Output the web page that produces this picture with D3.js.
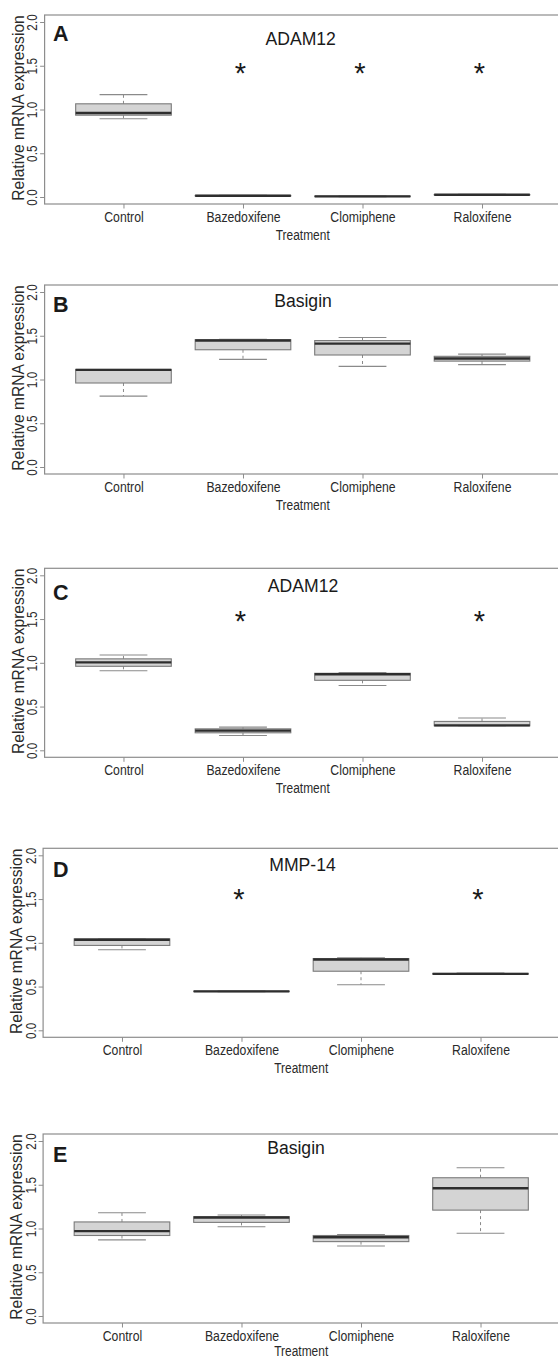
<!DOCTYPE html>
<html>
<head>
<meta charset="utf-8">
<script src="https://cdn.jsdelivr.net/npm/d3@7"></script>
<style>
  html, body { margin: 0; padding: 0; background: #fff; }
  svg { display: block; }
  text { font-family: "Liberation Sans", Arial, Helvetica, sans-serif; }
</style>
</head>
<body>
<svg id="chart" width="558" height="1360"></svg>
<script>
// ---------------- DATA ----------------
const categories = ["Control", "Bazedoxifene", "Clomiphene", "Raloxifene"];
const panelLetters = ["A", "B", "C", "D", "E"];
const panelTitles = ["ADAM12", "Basigin", "ADAM12", "MMP-14", "Basigin"];
const yTicks = [0, 0.5, 1.0, 1.5, 2.0];
const yTickLabels = ["0.0", "0.5", "1.0", "1.5", "2.0"];
const xTitle = "Treatment";
const yTitle = "Relative mRNA expression";

// five-number summaries per category: [lower whisker, Q1, median, Q3, upper whisker]
const statsA = [
  [0.895, 0.935, 0.96, 1.065, 1.17],
  [0.010, 0.012, 0.015, 0.018, 0.020],
  [0.003, 0.005, 0.007, 0.010, 0.012],
  [0.020, 0.024, 0.026, 0.028, 0.030]
];
const statsB = [
  [0.81, 0.96, 1.11, 1.115, 1.115],
  [1.23, 1.34, 1.445, 1.455, 1.46],
  [1.15, 1.28, 1.41, 1.445, 1.48],
  [1.17, 1.21, 1.24, 1.265, 1.29]
];
const statsC = [
  [0.91, 0.96, 1.005, 1.045, 1.09],
  [0.17, 0.20, 0.225, 0.245, 0.265],
  [0.74, 0.80, 0.87, 0.88, 0.89],
  [0.28, 0.28, 0.285, 0.33, 0.37]
];
const statsD = [
  [0.92, 0.97, 1.035, 1.045, 1.045],
  [0.44, 0.443, 0.445, 0.447, 0.45],
  [0.52, 0.675, 0.81, 0.82, 0.83],
  [0.64, 0.642, 0.645, 0.65, 0.655]
];
const statsE = [
  [0.87, 0.92, 0.97, 1.075, 1.18],
  [1.02, 1.07, 1.125, 1.135, 1.155],
  [0.80, 0.85, 0.90, 0.92, 0.93],
  [0.945, 1.21, 1.46, 1.58, 1.695]
];
const panelStats = [statsA, statsB, statsC, statsD, statsE];

// significance markers (category names) and the value level they are drawn at
const signifA = ["Bazedoxifene", "Clomiphene", "Raloxifene"];
const signifB = [];
const signifC = ["Bazedoxifene", "Raloxifene"];
const signifD = ["Bazedoxifene", "Raloxifene"];
const signifE = [];
const panelSignif = [signifA, signifB, signifC, signifD, signifE];
const signifLevel = [1.49, null, 1.55, 1.57, null];

// ---------------- LAYOUT ----------------
const layout = [
  { top: 15,    left: 44.6, titleX: 300.7, titleDy: 30.3, letterDy: 26.0 },
  { top: 285,   left: 44.6, titleX: 303.0, titleDy: 21.7, letterDy: 26.5 },
  { top: 568.3, left: 44.6, titleX: 303.0, titleDy: 23.4, letterDy: 31.2 },
  { top: 848.3, left: 43.1, titleX: 302.5, titleDy: 22.4, letterDy: 28.4 },
  { top: 1134,  left: 43.1, titleX: 296.0, titleDy: 19.5, letterDy: 28.0 }
];
const frameH = 189;      // y from -0.08 to 2.08
const frameW = 516.3;    // x from 0.34 to 4.66

const C = {
  frame: "#8d8d8d",
  boxFill: "#d4d4d4",
  boxStroke: "#7a7a7a",
  median: "#2e2e2e",
  whisker: "#8a8a8a",
  text: "#2a2a2a",
  label: "#1a1a1a"
};

const svg = d3.select("#chart");

function narrow(sel, factor) {
  sel.each(function () {
    const w = this.getComputedTextLength();
    d3.select(this).attr("textLength", w * factor).attr("lengthAdjust", "spacingAndGlyphs");
  });
}

panelStats.forEach((stats, pi) => {
  const L = layout[pi];
  const g = svg.append("g");

  const x = d3.scaleLinear().domain([0.34, 4.66]).range([L.left, L.left + frameW]);
  const y = d3.scaleLinear().domain([-0.08, 2.08]).range([L.top + frameH, L.top]);
  const pos = c => categories.indexOf(c) + 1;
  const bw = x(1.4) - x(1.0);   // half box width (box width 0.8)

  // frame
  g.append("rect")
    .attr("x", L.left).attr("y", L.top)
    .attr("width", frameW).attr("height", frameH)
    .attr("fill", "none").attr("stroke", C.frame).attr("stroke-width", 1.2);

  // y axis
  const yAxis = d3.axisLeft(y).tickValues(yTicks).tickSize(4.5).tickFormat((d, i) => yTickLabels[i]);
  const ya = g.append("g").attr("transform", `translate(${L.left},0)`).call(yAxis);
  ya.select(".domain").remove();
  ya.selectAll(".tick line").attr("stroke", C.frame).attr("stroke-width", 1);
  ya.selectAll(".tick text").remove();
  ya.selectAll(".tick").append("text")
    .attr("transform", "rotate(-90)")
    .attr("x", 0).attr("y", -7.4)
    .attr("text-anchor", "middle")
    .attr("fill", C.text)
    .attr("font-size", 15)
    .text((d, i) => yTickLabels[i])
    .call(narrow, 0.78);

  // x axis
  const xAxis = d3.axisBottom(x).tickValues([1, 2, 3, 4]).tickSize(4.5).tickFormat(d => categories[d - 1]);
  const xa = g.append("g").attr("transform", `translate(0,${L.top + frameH})`).call(xAxis);
  xa.select(".domain").remove();
  xa.selectAll(".tick line").attr("stroke", C.frame).attr("stroke-width", 1);
  xa.selectAll(".tick text")
    .attr("y", 17.5).attr("dy", null)
    .attr("fill", C.text)
    .attr("font-size", 15.3)
    .attr("font-family", "Liberation Sans, Arial, sans-serif")
    .call(narrow, 0.8);

  // axis titles
  g.append("text")
    .attr("x", (x.range()[0] + x.range()[1]) / 2)
    .attr("y", Math.min(L.top + frameH + 35.8, 1355.5))
    .attr("text-anchor", "middle")
    .attr("fill", C.text)
    .attr("font-size", 15.5)
    .text(xTitle)
    .call(narrow, 0.77);

  g.append("text")
    .attr("transform", `translate(${L.left - 20.7},${L.top + frameH / 2 - 1.5}) rotate(-90)`)
    .attr("text-anchor", "middle")
    .attr("fill", C.text)
    .attr("font-size", 15.6)
    .text(yTitle);

  // boxes
  stats.forEach((s, ci) => {
    const cx = x(ci + 1);
    const [lo, q1, med, q3, hi] = s;
    const bg = g.append("g");
    // whiskers (dashed)
    bg.append("line").attr("x1", cx).attr("x2", cx).attr("y1", y(q3)).attr("y2", y(hi))
      .attr("stroke", C.whisker).attr("stroke-width", 1).attr("stroke-dasharray", "3,3");
    bg.append("line").attr("x1", cx).attr("x2", cx).attr("y1", y(q1)).attr("y2", y(lo))
      .attr("stroke", C.whisker).attr("stroke-width", 1).attr("stroke-dasharray", "3,3");
    // caps
    [lo, hi].forEach(v => {
      bg.append("line").attr("x1", cx - bw / 2).attr("x2", cx + bw / 2)
        .attr("y1", y(v)).attr("y2", y(v))
        .attr("stroke", C.whisker).attr("stroke-width", 1.1);
    });
    // box
    bg.append("rect")
      .attr("x", cx - bw).attr("width", 2 * bw)
      .attr("y", y(q3)).attr("height", Math.max(0, y(q1) - y(q3)))
      .attr("fill", C.boxFill).attr("stroke", C.boxStroke).attr("stroke-width", 1.1);
    // median
    bg.append("line").attr("x1", cx - bw).attr("x2", cx + bw)
      .attr("y1", y(med)).attr("y2", y(med))
      .attr("stroke", C.median).attr("stroke-width", 2.4);
  });

  // significance asterisks
  const sig = panelSignif[pi];
  if (sig.length) {
    g.selectAll(".ast").data(sig).enter().append("text")
      .attr("class", "ast")
      .attr("x", d => x(pos(d)) - 2.5)
      .attr("y", y(signifLevel[pi]) + 16.5)
      .attr("text-anchor", "middle")
      .attr("fill", C.label)
      .attr("font-size", 29)
      .text("*");
  }

  // title
  g.append("text")
    .attr("x", L.titleX).attr("y", L.top + L.titleDy)
    .attr("text-anchor", "middle")
    .attr("fill", C.label)
    .attr("font-size", 17.6)
    .text(panelTitles[pi]);

  // panel letter
  g.append("text")
    .attr("x", 53.0).attr("y", L.top + L.letterDy)
    .attr("fill", C.label)
    .attr("font-size", 21.5)
    .attr("font-weight", "bold")
    .text(panelLetters[pi]);
});
</script>
</body>
</html>
